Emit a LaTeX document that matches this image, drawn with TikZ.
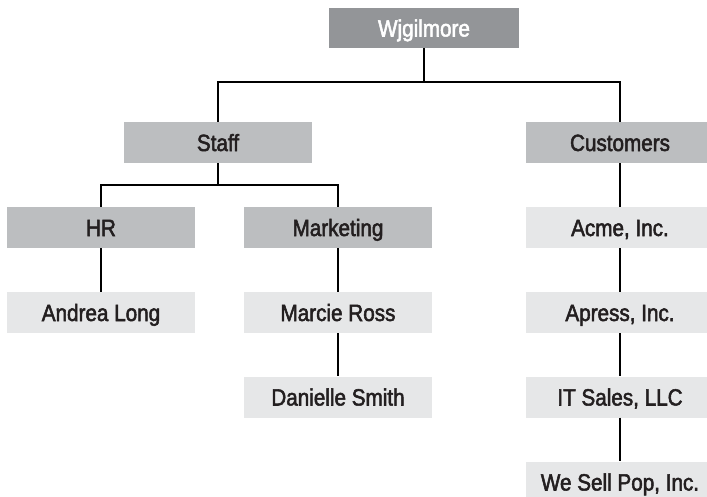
\documentclass[tikz,border=0pt]{standalone}
\usepackage{fontspec}
\setmainfont[FakeStretch=0.88,FakeBold=2.2]{Liberation Sans}
\usepackage{xcolor}
\usepackage{tikz}
\usetikzlibrary{positioning}

\definecolor{darkbox}{HTML}{939598}
\definecolor{midbox}{HTML}{BCBEC0}
\definecolor{lightbox}{HTML}{E6E7E8}
\definecolor{inktext}{HTML}{231F20}

\tikzset{
  orgbox/.style={inner sep=0pt, minimum width=188pt, minimum height=41pt,
    text height=17pt, text depth=0pt, text=inktext, font=\fontsize{23.5}{24}\selectfont},
  topbox/.style={orgbox, fill=darkbox, text=white, minimum width=190pt, minimum height=40pt},
  groupbox/.style={orgbox, fill=midbox},
  leafbox/.style={orgbox, fill=lightbox},
  link/.style={line width=1.8pt, black}
}

\begin{document}
\begin{tikzpicture}[x=1pt,y=-1pt]
\useasboundingbox (0,0) rectangle (707,496);

\node [topbox] (root) at (424,28) {Wjgilmore};

\node [groupbox] (staff) at (218,142.5) {Staff};
\node [groupbox] (customers) at (620,142.5) {Customers};

\node [groupbox] (hr) at (101,227.5) {HR};
\node [groupbox] (marketing) at (338,227.5) {Marketing};
\node [leafbox] (acme) at (620,227.5) {Acme, Inc.};

\node [leafbox] (andrea) at (101,312.5) {Andrea Long};
\node [leafbox] (marcie) at (338,312.5) {Marcie Ross};
\node [leafbox] (apress) at (620,312.5) {Apress, Inc.};

\node [leafbox] (danielle) at (338,397) {Danielle Smith};
\node [leafbox] (itsales) at (620,397) {IT Sales, LLC};

\node [leafbox] (wesell) at (620,482) {We Sell Pop, Inc.};

% branch points
\coordinate (rootfork) at (424,82);
\coordinate (stafffork) at (218,185);

% connectors
\draw [link] (root) -- (rootfork) -| (staff);
\draw [link] (rootfork) -| (customers);
\draw [link] (staff) -- (stafffork) -| (hr);
\draw [link] (stafffork) -| (marketing);
\draw [link] (hr) -- (andrea);
\draw [link] (marketing) -- (marcie);
\draw [link] (marcie) -- (danielle);
\draw [link] (customers) -- (acme);
\draw [link] (acme) -- (apress);
\draw [link] (apress) -- (itsales);
\draw [link] (itsales) -- (wesell);
\end{tikzpicture}
\end{document}
